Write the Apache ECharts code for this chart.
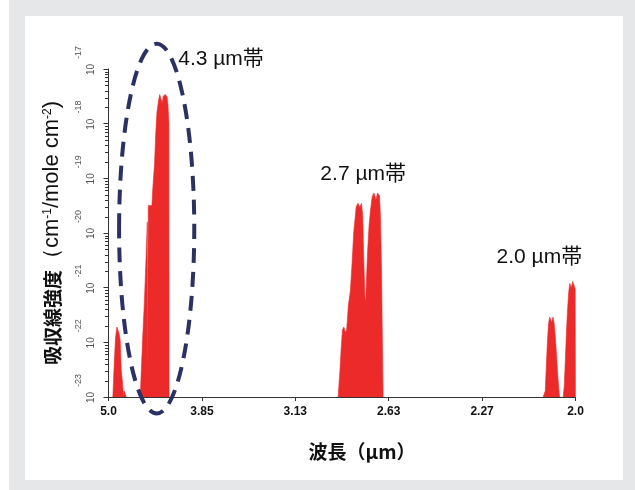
<!DOCTYPE html>
<html><head><meta charset="utf-8">
<script src="https://cdn.jsdelivr.net/npm/echarts@6/dist/echarts.min.js"></script>
<style>
html,body{margin:0;padding:0;background:#fff}
#frame{position:absolute;left:9px;top:0;width:626px;height:490px;background:#e6e7e9}
#panel{position:absolute;left:25px;top:16px;width:598px;height:464px;background:#fff}
#c{position:absolute;left:0;top:0;width:635px;height:490px}
</style>
</head><body><div id="frame"></div><div id="panel"></div><div id="c"></div>
<script>
// x axis: wavenumber (cm^-1), labelled by wavelength (µm)
const tickWavenumbers = [2000, 2600, 3200, 3800, 4400, 5000];
const wavelengthLabels = ['5.0', '3.85', '3.13', '2.63', '2.27', '2.0'];
const yExponents = [-23, -22, -21, -20, -19, -18, -17];

// band near 4.7 µm
const band1Wn  = [2028, 2037, 2045, 2054, 2060, 2069, 2075, 2082, 2090, 2096, 2100, 2111, 2114];
const band1Val = [1e-23, 4.2e-23, 1.2e-22, 1.9e-22, 1.7e-22, 1.4e-22, 1.1e-22, 3.1e-23, 1.8e-23, 1e-23, 1.3e-23, 1.3e-23, 1e-23];
// 4.3 µm band
const band2Wn  = [2204, 2210, 2219, 2231, 2247, 2249.5, 2250.5, 2254.5, 2255.5, 2257, 2268, 2279, 2284, 2296, 2303, 2311, 2322, 2329, 2339, 2345, 2352, 2365, 2376, 2382, 2388, 2389];
const band2Val = [1e-23, 2.7e-23, 1.1e-22, 5.9e-22, 1.0e-20, 1.6e-20, 1e-23, 1e-23, 2.9e-20, 3.2e-20, 3.0e-20, 3.2e-20, 6.2e-20, 1.9e-19, 6.2e-19, 1.6e-18, 2.7e-18, 3.4e-18, 3.4e-18, 2.4e-18, 3.2e-18, 3.4e-18, 3.1e-18, 2.2e-18, 1.0e-18, 1e-23];
// 2.7 µm band
const band3Wn  = [3475, 3487, 3494, 3503, 3512, 3522, 3530, 3541, 3554, 3565, 3575, 3591, 3602, 3615, 3625, 3633, 3640, 3647, 3652, 3657, 3665, 3674, 3683, 3694, 3705, 3718, 3728, 3741, 3747, 3754, 3758, 3764];
const band3Val = [1e-23, 3.1e-23, 7.2e-23, 1.7e-22, 1.9e-22, 1.5e-22, 1.7e-22, 4.8e-22, 8.9e-22, 2.9e-21, 1.0e-20, 3.0e-20, 3.5e-20, 3.0e-20, 3.5e-20, 2.1e-20, 3.2e-21, 7.2e-22, 5.2e-22, 1.4e-21, 4.9e-21, 1.4e-20, 2.6e-20, 4.6e-20, 5.4e-20, 4.0e-20, 5.4e-20, 4.8e-20, 2.0e-20, 2.1e-21, 2.2e-22, 1e-23];
// 2.0 µm band (two lobes)
const band4Wn  = [4792, 4806, 4813, 4820, 4827, 4834, 4840, 4847, 4855, 4863, 4870, 4878, 4886, 4893, 4898];
const band4Val = [1e-23, 1.3e-23, 4.0e-23, 1.1e-22, 2.2e-22, 2.9e-22, 2.6e-22, 2.3e-22, 2.9e-22, 2.2e-22, 1.3e-22, 6.0e-23, 2.5e-23, 1.4e-23, 1e-23];
const band5Wn  = [4921, 4928, 4935, 4942, 4949, 4956, 4963, 4973, 4982, 4992, 4998, 4999.5];
const band5Val = [1e-23, 1.6e-23, 5.0e-23, 1.6e-22, 4.0e-22, 8.0e-22, 1.2e-21, 1.0e-21, 1.3e-21, 1.2e-21, 9.5e-22, 1e-23];

// annotations (data coordinates: wavenumber, intensity)
const annoText = ['4.3 µm帯', '2.7 µm帯', '2.0 µm帯'];
const annoWn   = [2448, 3361, 4493];
const annoVal  = [1.5e-17, 1.2e-19, 3.6e-21];
const ellipseWn  = [2068, 2551];
const ellipseVal = [2.9e-17, 5e-24];

const RED = '#ec2a2a';
const LATIN = 'Liberation Sans, Arial, sans-serif';
const lg = v => Math.log10(v);
const minorTickLogs = [];
for (let e = yExponents[0]; e < yExponents[yExponents.length - 1]; e++)
  for (let m = 2; m <= 9; m++) minorTickLogs.push(e + Math.log10(m));

function band(wn, val) {
  return {
    type: 'line', data: wn.map((w, i) => [w, lg(val[i])]),
    showSymbol: false, symbol: 'none', animation: false, z: 3,
    lineStyle: { width: 0.6, color: RED },
    areaStyle: { color: RED, opacity: 1, origin: 'start' }
  };
}

const chart = echarts.init(document.getElementById('c'), null, { renderer: 'canvas' });
chart.setOption({
  animation: false,
  backgroundColor: 'transparent',
  grid: { left: 108.5, right: 59.5, top: 69, bottom: 93, containLabel: false },
  xAxis: {
    type: 'value', min: tickWavenumbers[0], max: tickWavenumbers[tickWavenumbers.length - 1],
    interval: tickWavenumbers[1] - tickWavenumbers[0],
    splitLine: { show: false },
    axisLine: { lineStyle: { color: '#333', width: 1 } },
    axisTick: { length: 4, lineStyle: { color: '#333' } },
    axisLabel: {
      margin: 9, color: '#111', fontSize: 12, fontWeight: 'bold', fontFamily: LATIN,
      formatter: v => wavelengthLabels[tickWavenumbers.indexOf(Math.round(v))] || ''
    },
    name: '波長（µm）', nameLocation: 'middle', nameGap: 45,
    nameTextStyle: { fontSize: 19, color: '#111', fontWeight: 'bold', fontFamily: 'Noto Sans CJK JP, sans-serif', padding: [0, 0, 0, 40] }
  },
  yAxis: {
    type: 'value', min: yExponents[0], max: yExponents[yExponents.length - 1], interval: 1,
    splitLine: { show: false },
    axisLine: { show: true, lineStyle: { color: '#333', width: 1 } },
    axisTick: { show: true, length: 5, lineStyle: { color: '#333' } },
    axisLabel: {
      rotate: 90, margin: 12,
      formatter: v => '{p| }{b|10}{s|' + Math.round(v) + '}',
      rich: {
        p: { width: 17, fontSize: 8 },
        b: { fontSize: 10, color: '#555', lineHeight: 22, verticalAlign: 'bottom', fontFamily: LATIN },
        s: { fontSize: 9, color: '#555', lineHeight: 10, verticalAlign: 'top', padding: [0, 0, 0, 5], fontFamily: LATIN }
      }
    },
    name: '{k|吸収線強度}{n|（cm}{u|-1}{n|/mole cm}{u|-2}{n|)}', nameLocation: 'middle', nameRotate: 90, nameGap: 46,
    nameTextStyle: {
      rich: {
        k: { fontSize: 19, color: '#111', fontWeight: 'bold', fontFamily: 'Noto Sans CJK JP, sans-serif', lineHeight: 22, verticalAlign: 'bottom' },
        n: { fontSize: 22, color: '#111', fontFamily: LATIN, lineHeight: 22, verticalAlign: 'bottom' },
        u: { fontSize: 12, color: '#111', fontFamily: LATIN, lineHeight: 12, verticalAlign: 'top', padding: [1, 0, 0, 0] }
      }
    }
  },
  series: [
    band(band1Wn, band1Val), band(band2Wn, band2Val), band(band3Wn, band3Val),
    band(band4Wn, band4Val), band(band5Wn, band5Val),
    {
      type: 'custom', z: 4, silent: true, clip: false,
      data: minorTickLogs.map(v => [tickWavenumbers[0], v]),
      renderItem: (params, api) => {
        const p = api.coord([api.value(0), api.value(1)]);
        const y = Math.round(p[1]) + 0.5;
        return { type: 'line', shape: { x1: p[0] - 3.5, y1: y, x2: p[0], y2: y }, style: { stroke: '#333', lineWidth: 1 } };
      }
    }
  ]
});

const toPx = (wn, v) => chart.convertToPixel({ gridIndex: 0 }, [wn, lg(v)]);
const e0 = toPx(ellipseWn[0], ellipseVal[0]);
const e1 = toPx(ellipseWn[1], ellipseVal[1]);
const graphics = [
  { type: 'ellipse', z: 100, silent: true,
    shape: { cx: (e0[0] + e1[0]) / 2, cy: (e0[1] + e1[1]) / 2, rx: Math.abs(e1[0] - e0[0]) / 2, ry: Math.abs(e1[1] - e0[1]) / 2 },
    style: { fill: 'none', stroke: '#2b3263', lineWidth: 4, lineDash: [15, 9] } }
];
annoText.forEach((t, i) => {
  const p = toPx(annoWn[i], annoVal[i]);
  graphics.push({ type: 'text', z: 101, x: p[0], y: p[1], silent: true,
    style: { text: t, fill: '#111', fontSize: 21, fontFamily: 'Liberation Sans, Arial, Noto Sans CJK JP, sans-serif', align: 'left', verticalAlign: 'middle' } });
});
chart.setOption({ graphic: graphics });
</script>
</body></html>
